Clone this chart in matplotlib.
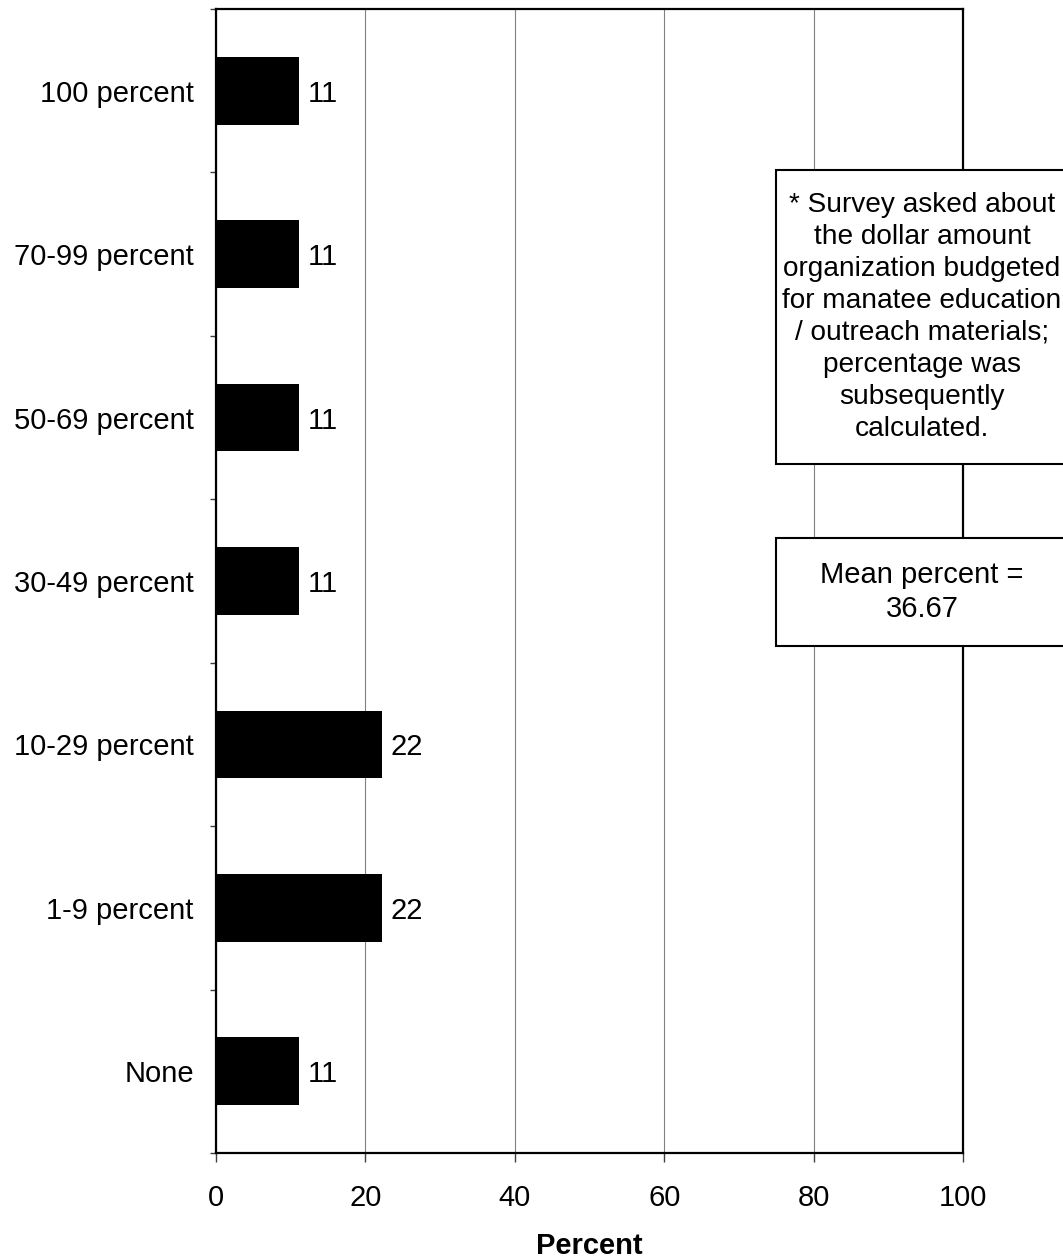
import matplotlib.pyplot as plt
from matplotlib.patches import Rectangle

categories = ["None", "1-9 percent", "10-29 percent", "30-49 percent",
              "50-69 percent", "70-99 percent", "100 percent"]
values = [11.11, 22.22, 22.22, 11.11, 11.11, 11.11, 11.11]
labels = ["11", "22", "22", "11", "11", "11", "11"]
xticks = [0, 20, 40, 60, 80, 100]

note_text = ("* Survey asked about\nthe dollar amount\norganization budgeted\n"
             "for manatee education\n/ outreach materials;\npercentage was\n"
             "subsequently\ncalculated.")
mean_text = "Mean percent =\n36.67"

plt.rcParams['font.family'] = ['Liberation Sans', 'DejaVu Sans']

fig = plt.figure(figsize=(10.63, 12.59), dpi=100)
ax = fig.add_axes([216 / 1063, 1 - 1153 / 1259, 747 / 1063, 1144 / 1259])

ypos = list(range(len(categories)))
ax.barh(ypos, values, height=0.415, color="black", zorder=3)
for y, v, lab in zip(ypos, values, labels):
    ax.annotate(lab, (v, y), xytext=(6, 0), textcoords="offset points",
                va="center_baseline", ha="left", fontsize=21)

ax.set_xlim(0, 100)
ax.set_ylim(-0.5, len(categories) - 0.5)
ax.set_xticks(xticks)
ax.set_xticklabels([str(t) for t in xticks], fontsize=21)
ax.set_yticks(ypos)
ax.set_yticklabels(categories, fontsize=21)
ax.set_yticks([i - 0.5 for i in range(len(categories) + 1)], minor=True)
ax.tick_params(axis="y", which="major", length=0, pad=16)
ax.tick_params(axis="y", which="minor", length=4.5, width=1, direction="out", color="#404040")
ax.tick_params(axis="x", which="major", length=6.5, width=1, direction="out", pad=16, color="#404040")
ax.grid(axis="x", color="#808080", linewidth=0.8, zorder=0)
ax.set_axisbelow(True)
for s in ax.spines.values():
    s.set_linewidth(1.6)
ax.set_xlabel("Percent", fontsize=21, fontweight="bold", labelpad=14)

# note boxes, running off the right edge like the original
ax.add_patch(Rectangle((0.7497, 0.6023), 0.391, 0.257, transform=ax.transAxes,
                       facecolor="white", edgecolor="black", linewidth=1.5,
                       clip_on=False, zorder=5))
ax.text(0.945, 0.7308, note_text, transform=ax.transAxes, ha="center", va="center",
        fontsize=20.2, linespacing=1.3, zorder=6, clip_on=False)
ax.add_patch(Rectangle((0.7497, 0.4432), 0.391, 0.0944, transform=ax.transAxes,
                       facecolor="white", edgecolor="black", linewidth=1.5,
                       clip_on=False, zorder=5))
ax.text(0.945, 0.4904, mean_text, transform=ax.transAxes, ha="center", va="center",
        fontsize=21, linespacing=1.24, zorder=6, clip_on=False)

fig.savefig("out.png", dpi=100)
